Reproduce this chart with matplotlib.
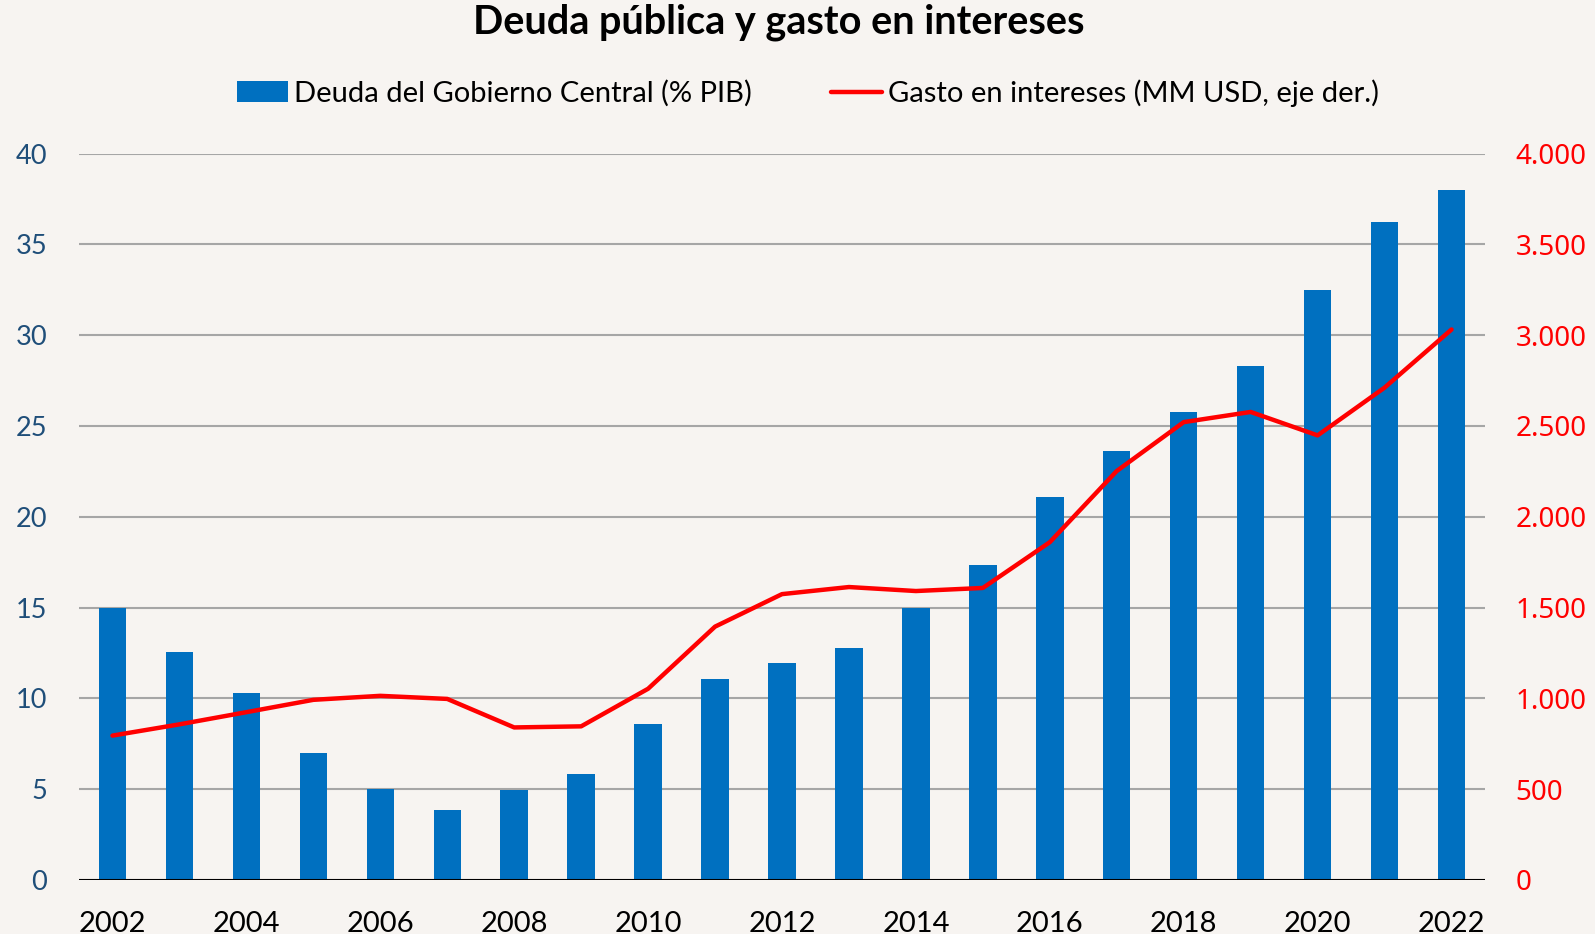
import numpy as np
import matplotlib.pyplot as plt
from matplotlib.ticker import FuncFormatter

anios = list(range(2002, 2023))
deuda = [15.0, 12.55, 10.3, 7.0, 5.0, 3.87, 4.93, 5.83, 8.57, 11.09, 11.93,
         12.77, 15.0, 17.37, 21.06, 23.64, 25.77, 28.29, 32.49, 36.25, 37.98]
intereses = [795, 857, 924, 992, 1014, 997, 840, 846, 1053, 1395, 1574,
             1613, 1591, 1608, 1860, 2252, 2521, 2577, 2448, 2711, 3031]

fondo = "#F7F4F1"
plt.rcParams['font.family'] = ['Lato', 'DejaVu Sans']

fig = plt.figure(figsize=(15.95, 9.34), dpi=100, facecolor=fondo)
ax = fig.add_axes([79 / 1595, 1 - 880 / 934, (1485 - 79) / 1595, (880 - 153.5) / 934])
ax.set_facecolor(fondo)
ax2 = ax.twinx()

barras = ax.bar(anios, deuda, width=0.41, color="#0070C0", zorder=2,
                label="Deuda del Gobierno Central (% PIB)")
linea, = ax2.plot(anios, intereses, color="#FF0000", lw=3.2, solid_capstyle="round",
                  label="Gasto en intereses (MM USD, eje der.)")

ax.set_xlim(2001.5, 2022.5)
ax.set_ylim(0, 40)
ax2.set_ylim(0, 4000)
ax.set_yticks(range(0, 41, 5))
ax2.set_yticks(range(0, 4001, 500))
ax2.yaxis.set_major_formatter(FuncFormatter(lambda v, p: f"{int(v):,}".replace(",", ".")))
ax.set_xticks(range(2002, 2023, 2))

ax.grid(axis="y", color="#A6A6A6", lw=1.5, zorder=0)
ax.set_axisbelow(True)
for a in (ax, ax2):
    for s in a.spines.values():
        s.set_visible(False)
ax.axhline(0, color="black", lw=2.2, zorder=3)

ax.tick_params(axis="y", length=0, pad=23, labelsize=19.5, labelcolor="#1F4E79")
ax.tick_params(axis="x", length=0, pad=22, labelsize=21, labelcolor="black")
ax2.tick_params(axis="y", length=0, pad=22, labelsize=20, labelcolor="#FF0000")
for t in ax2.get_yticklabels():
    t.set_fontfamily("Noto Sans")

fig.text(0.488, 1 - 22.4 / 934, "Deuda pública y gasto en intereses", ha="center", va="center",
         fontsize=28.5, fontweight="bold")
fig.legend(handles=[barras, linea], loc="center", bbox_to_anchor=(0.5066, 1 - 93 / 934),
           ncol=2, frameon=False, fontsize=21, handlelength=1.75, handletextpad=0.2,
           columnspacing=2.7)

fig.savefig("out.png", dpi=100, facecolor=fondo)
